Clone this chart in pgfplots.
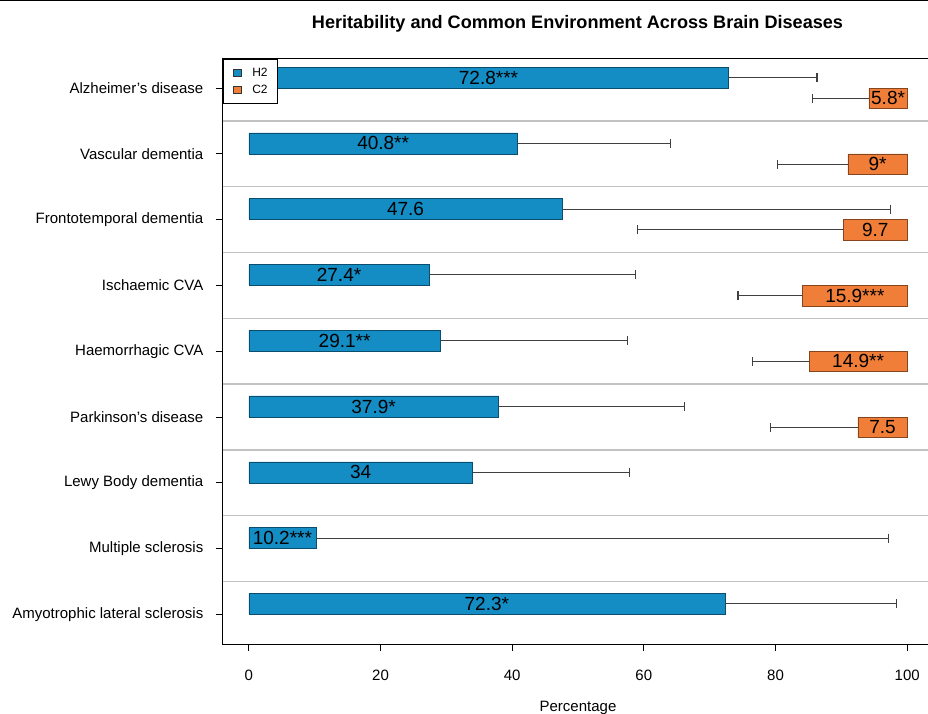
\documentclass[border=0pt]{standalone}
\usepackage{fontspec}
\setmainfont{Liberation Sans}
\usepackage{pgfplots}
\usepackage{pgfplotstable}
\pgfplotsset{compat=1.18}
\definecolor{hblue}{RGB}{20,140,196}
\definecolor{corange}{RGB}{240,126,56}
\pgfplotstableread{
i h hup
0 72.8 86.3
1 40.8 64.0
2 47.6 97.4
3 27.4 58.7
4 29.1 57.5
5 37.9 66.2
6 34 57.8
7 10.2 97.1
8 72.3 98.4
}\hdata
\pgfplotstableread{
i c cup
0 5.8 14.4
1 9 19.7
2 9.7 40.9
3 15.9 25.7
4 14.9 23.5
5 7.5 20.7
}\cdata
\begin{document}
\begin{tikzpicture}[x=1pt,y=1pt]
\useasboundingbox (0,0) rectangle (928,714);
\fill[black] (0,712.5) rectangle (928,714);
\node[anchor=base, font=\fontsize{18.1}{18.1}\selectfont\bfseries] at (577.5,685.7) {Heritability and Common Environment Across Brain Diseases};
\begin{axis}[
 at={(222.5pt,70pt)}, anchor=south west,
 width=711pt, height=585.5pt, scale only axis,
 xmin=-4, xmax=104, ymin=-0.45, ymax=8.45, y dir=reverse,
 xtick={0,20,...,100}, ytick={0,...,8},
 yticklabels={Alzheimer's disease, Vascular dementia, Frontotemporal dementia, Ischaemic CVA, Haemorrhagic CVA, Parkinson's disease, Lewy Body dementia, Multiple sclerosis, Amyotrophic lateral sclerosis},
 tick align=outside, xtick pos=bottom, ytick pos=left,
 major tick length=7pt,
 tick style={black, line width=0.8pt},
 axis line style={black, line width=1pt},
 ticklabel style={font=\fontsize{15}{15}\selectfont},
 yticklabel style={inner sep=0pt, anchor=east, xshift=-12pt},
 xticklabel style={inner sep=0pt, anchor=north, yshift=-19pt},
 /pgf/number format/assume math mode=true,
 extra y ticks={0.5,1.5,...,7.5}, extra y tick labels={},
 extra y tick style={grid=major, major tick length=0pt, major grid style={black!24, line width=1.4pt}},
 xlabel={Percentage},
 xlabel style={font=\fontsize{15}{15}\selectfont, at={(axis description cs:0.5,0)}, anchor=base, yshift=-67pt},
 legend image code/.code={\draw[#1] (-3.8pt,-3.8pt) rectangle (3.8pt,3.8pt);},
 legend style={at={(0,1)}, anchor=north west, font=\fontsize{12}{12}\selectfont, draw=black, line width=0.8pt, fill=white,
   nodes={inner sep=0pt}, inner xsep=10pt, inner ysep=9pt, row sep=7pt, column sep=11pt},
 legend cell align=left,
]
\addplot[xbar, bar width=0.32, bar shift=-0.16, fill=hblue, draw=hblue!55!black, line width=0.5pt, forget plot]
 table[x=h, y=i] {\hdata};
\addplot[draw=none, mark=none, forget plot,
 error bars/.cd, x dir=plus, x explicit, error mark=|,
 error bar style={draw=black!75, line width=1.1pt},
 error mark options={draw=black!75, line width=1.1pt, mark size=4.5pt}]
 table[x=h, y expr=\thisrow{i}-0.16, x error plus expr=\thisrow{hup}-\thisrow{h}] {\hdata};
\addplot[draw=none, mark=none, forget plot, nodes near coords, point meta=explicit symbolic,
 nodes near coords style={anchor=center, inner sep=0pt, font=\fontsize{19}{19}\selectfont}]
 coordinates {(36.4,-0.16)[72.8***] (20.4,0.84)[40.8**] (23.8,1.84)[47.6] (13.7,2.84)[27.4*] (14.55,3.84)[29.1**] (18.95,4.84)[37.9*] (17,5.84)[34] (5.1,6.84)[10.2***] (36.15,7.84)[72.3*]};
\addlegendimage{fill=hblue, draw=black!80, line width=0.8pt}
\addlegendentry{H2}
\addlegendimage{fill=corange, draw=black!80, line width=0.8pt}
\addlegendentry{C2}
\end{axis}
\begin{axis}[
 at={(222.5pt,70pt)}, anchor=south west,
 width=711pt, height=585.5pt, scale only axis,
 xmin=-4, xmax=104, x dir=reverse, ymin=-0.45, ymax=8.45, y dir=reverse,
 hide axis,
]
\addplot[xbar, bar width=0.31, bar shift=0.155, fill=corange, draw=corange!55!black, line width=0.5pt]
 table[x=c, y=i] {\cdata};
\addplot[draw=none, mark=none,
 error bars/.cd, x dir=plus, x explicit, error mark=|,
 error bar style={draw=black!75, line width=1.1pt},
 error mark options={draw=black!75, line width=1.1pt, mark size=4.5pt}]
 table[x=c, y expr=\thisrow{i}+0.155, x error plus expr=\thisrow{cup}-\thisrow{c}] {\cdata};
\addplot[draw=none, mark=none, nodes near coords, point meta=explicit symbolic,
 nodes near coords style={anchor=center, inner sep=0pt, font=\fontsize{19}{19}\selectfont}]
 coordinates {(2.9,0.155)[5.8*] (4.5,1.155)[9*] (4.85,2.155)[9.7] (7.95,3.155)[15.9***] (7.45,4.155)[14.9**] (3.75,5.155)[7.5]};
\end{axis}
\end{tikzpicture}
\end{document}
